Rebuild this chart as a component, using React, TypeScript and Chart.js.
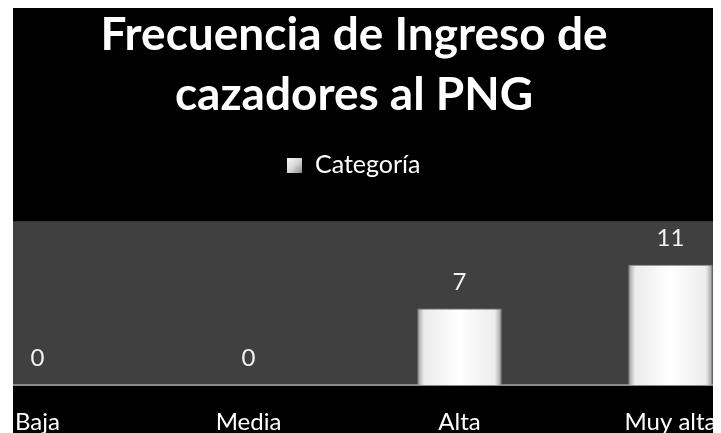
import React, { useEffect, useRef } from "react";
import { Chart, registerables } from "chart.js";

Chart.register(...registerables);

const titleLines = ["Frecuencia de Ingreso de", "cazadores al PNG"];
const seriesName = "Categoría";
const categories = ["Baja", "Media", "Alta", "Muy alta"];
const values = [0, 0, 7, 11];
const yMax = 15;

const FONT = "Lato, 'Open Sans', sans-serif";
const BAR_PCT = 0.4;

const backgroundPlugin = {
  id: "bgPlot",
  beforeDraw(chart: any) {
    const { ctx, chartArea, width, height } = chart;
    ctx.save();
    ctx.fillStyle = "#000000";
    ctx.fillRect(0, 0, width, height);
    ctx.fillStyle = "#404040";
    ctx.fillRect(chartArea.left, chartArea.top, chartArea.right - chartArea.left, chartArea.bottom - chartArea.top);
    ctx.restore();
  },
};

const valueLabelPlugin = {
  id: "valueLabels",
  afterDatasetsDraw(chart: any) {
    const { ctx } = chart;
    const meta = chart.getDatasetMeta(0);
    ctx.save();
    ctx.fillStyle = "#f2f2f2";
    ctx.font = `24px ${FONT}`;
    ctx.textAlign = "center";
    ctx.textBaseline = "alphabetic";
    meta.data.forEach((bar: any, i: number) => {
      ctx.fillText(String(values[i]), bar.x, bar.y - 19);
    });
    ctx.restore();
  },
};

function barFill(c: any) {
  const chart = c.chart;
  const xs = chart.scales && chart.scales.x;
  if (c.type !== "data" || !xs) return "#d9d9d9";
  const cx = xs.getPixelForValue(c.dataIndex);
  const w = (xs.width / categories.length) * BAR_PCT;
  if (!isFinite(cx) || !isFinite(w) || w <= 0) return "#f4f4f4";
  const g = chart.ctx.createLinearGradient(cx - w / 2, 0, cx + w / 2, 0);
  g.addColorStop(0, "#9c9c9c");
  g.addColorStop(0.08, "#ececec");
  g.addColorStop(0.5, "#ffffff");
  g.addColorStop(0.92, "#ececec");
  g.addColorStop(1, "#989898");
  return g;
}

function makeLegendSwatch() {
  const c = document.createElement("canvas");
  c.width = 15;
  c.height = 15;
  const x = c.getContext("2d")!;
  const g = x.createLinearGradient(0, 0, 15, 15);
  g.addColorStop(0, "#f8f8f8");
  g.addColorStop(0.5, "#d8d8d8");
  g.addColorStop(1, "#8a8a8a");
  x.fillStyle = g;
  x.fillRect(0, 0, 15, 15);
  return c;
}

export default function App() {
  const ref = useRef<HTMLCanvasElement | null>(null);
  useEffect(() => {
    if (!ref.current) return;
    const swatch = makeLegendSwatch();
    const chart = new Chart(ref.current, {
      type: "bar",
      data: {
        labels: categories,
        datasets: [
          {
            label: seriesName,
            data: values,
            backgroundColor: barFill as any,
            borderColor: "#8c8c8c",
            borderWidth: 1,
            categoryPercentage: 1,
            barPercentage: BAR_PCT,
          },
        ],
      },
      options: {
        responsive: false,
        animation: false,
        layout: { padding: 0 },
        plugins: {
          title: {
            display: true,
            text: titleLines,
            color: "#ffffff",
            font: { family: FONT, size: 46, weight: "bold", lineHeight: 1.29 },
            padding: { top: -2, bottom: 18 },
          },
          subtitle: {
            display: true,
            text: "",
            weight: 500,
            font: { size: 10, lineHeight: 1 },
            padding: { top: 23.5, bottom: 0 },
          } as any,
          legend: {
            display: true,
            position: "top",
            labels: {
              color: "#ffffff",
              boxWidth: 15,
              boxHeight: 15,
              padding: 10,
              usePointStyle: true,
              pointStyle: swatch as any,
              font: { family: FONT, size: 25 },
            },
          },
          tooltip: { enabled: false },
        },
        scales: {
          x: {
            type: "category",
            offset: true,
            grid: { display: false, drawTicks: false },
            border: { display: true, color: "#8c8c8c", width: 2 },
            ticks: {
              color: "#ffffff",
              font: { family: FONT, size: 24 },
              padding: 22.5,
              maxRotation: 0,
              autoSkip: false,
            },
            afterFit: (scale: any) => {
              scale.height = 48;
            },
          },
          y: {
            display: false,
            min: 0,
            max: yMax,
          },
        },
      },
      plugins: [backgroundPlugin, valueLabelPlugin],
    });
    chart.update();
    return () => chart.destroy();
  }, []);
  return (
    <div style={{ marginLeft: 5, width: 708, height: 425, overflow: "hidden" }}>
      <canvas ref={ref} width={844} height={425} style={{ display: "block", marginLeft: -81 }} />
    </div>
  );
}
